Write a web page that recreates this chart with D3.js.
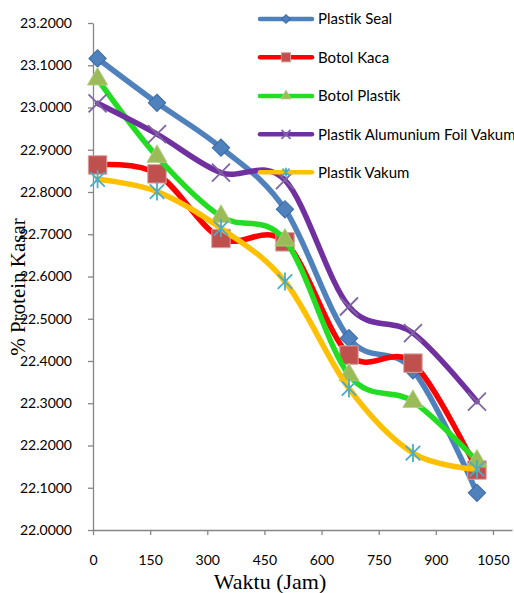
<!DOCTYPE html>
<html>
<head>
<meta charset="utf-8">
<script src="https://cdn.jsdelivr.net/npm/d3@7"></script>
<style>
  html, body { margin: 0; padding: 0; background: #fff; }
  svg { display: block; }
</style>
</head>
<body>
<svg id="chart" width="514" height="593"></svg>
<script>
// ---- Data ----
const hours = [12, 168, 336, 504, 672, 840, 1008];
const seriesNames = ["Plastik Seal", "Botol Kaca", "Botol Plastik", "Plastik Alumunium Foil Vakum", "Plastik Vakum"];
const plastikSeal = [23.116, 23.011, 22.905, 22.759, 22.454, 22.378, 22.088];
const botolKaca = [22.864, 22.843, 22.690, 22.682, 22.414, 22.395, 22.142];
const botolPlastik = [23.067, 22.884, 22.742, 22.686, 22.367, 22.304, 22.163];
const plastikAlFoilVakum = [23.010, 22.937, 22.846, 22.828, 22.529, 22.466, 22.304];
const plastikVakum = [22.830, 22.801, 22.714, 22.588, 22.335, 22.182, 22.144];
const yTickValues = [22.0, 22.1, 22.2, 22.3, 22.4, 22.5, 22.6, 22.7, 22.8, 22.9, 23.0, 23.1, 23.2];
const xTickValues = [0, 150, 300, 450, 600, 750, 900, 1050];
const xTitle = "Waktu (Jam)";
const yTitle = "% Protein Kasar";

const seriesValues = [plastikSeal, botolKaca, botolPlastik, plastikAlFoilVakum, plastikVakum];
const lineColors = ["#4F81BD", "#FF0000", "#22DD22", "#7030A0", "#FFC000"];
const markerColors = ["#4F81BD", "#C0504D", "#9BBB59", "#8064A2", "#4BACC6"];
const markerTypes = ["diamond", "square", "triangle", "x", "star"];

const svg = d3.select("#chart");
const x = d3.scaleLinear().domain([0, 1100]).range([93, 512]);
const y = d3.scaleLinear().domain([22.0, 23.2]).range([530, 23]);

const sansFont = "Lato, 'Noto Sans', sans-serif";
const serifFont = "'Liberation Serif', 'DejaVu Serif', serif";

// Axes
const yAxis = svg.append("g").attr("transform", `translate(${x(0)},0)`)
  .call(d3.axisLeft(y).tickValues(yTickValues).tickFormat(d => d.toFixed(4)).tickSize(5).tickSizeOuter(0).tickPadding(16));
const xAxis = svg.append("g").attr("transform", `translate(0,${y(22.0)})`)
  .call(d3.axisBottom(x).tickValues(xTickValues).tickFormat(d3.format("d")).tickSize(5).tickSizeOuter(0).tickPadding(20));
[yAxis, xAxis].forEach(g => {
  g.selectAll("path.domain").attr("stroke", "#868686").attr("stroke-width", 1.3);
  g.selectAll(".tick line").attr("stroke", "#868686").attr("stroke-width", 1.3);
  g.selectAll(".tick text").attr("fill", "#000").style("font-family", sansFont).style("font-size", "14px");
});

// Titles
svg.append("text").text(xTitle)
  .attr("x", 270).attr("y", 589)
  .attr("text-anchor", "middle")
  .style("font-family", serifFont).style("font-size", "22px").attr("fill", "#000");
svg.append("text").text(yTitle)
  .attr("transform", "translate(25,287) rotate(-90)")
  .attr("text-anchor", "middle")
  .style("font-family", serifFont).style("font-size", "21px").attr("fill", "#000");

// Marker drawing
function drawMarker(g, type, color, s) {
  if (type === "diamond") {
    g.append("path").attr("d", d3.symbol(d3.symbolSquare, 150 * s * s)())
      .attr("transform", "rotate(45)")
      .attr("fill", color).attr("stroke", "#3A6AA5").attr("stroke-width", 1);
  } else if (type === "square") {
    g.append("path").attr("d", d3.symbol(d3.symbolSquare, 340 * s * s)())
      .attr("fill", color).attr("stroke", "#D9A09E").attr("stroke-width", 1);
  } else if (type === "triangle") {
    g.append("path").attr("d", d3.symbol(d3.symbolTriangle, 180 * s * s)())
      .attr("fill", color).attr("stroke", "#B5CF88").attr("stroke-width", 0.8);
  } else if (type === "x") {
    const r = 9 * s;
    g.append("path").attr("d", `M${-r},${-r}L${r},${r}M${-r},${r}L${r},${-r}`)
      .attr("stroke", color).attr("stroke-width", 1.8).attr("fill", "none");
  } else if (type === "star") {
    const r = 9 * s;
    const a = r * 0.8;
    g.append("path").attr("d", `M${-a},${-a}L${a},${a}M${-a},${a}L${a},${-a}M0,${-r}L0,${r}`)
      .attr("stroke", color).attr("stroke-width", 1.8).attr("fill", "none");
  }
}

const line = d3.line().x((d, i) => x(hours[i])).y(d => y(d)).curve(d3.curveCardinal.tension(0));

// Series lines + markers
seriesValues.forEach((vals, si) => {
  svg.append("path").datum(vals)
    .attr("d", line)
    .attr("fill", "none")
    .attr("stroke", lineColors[si])
    .attr("stroke-width", 5.5)
    .attr("stroke-linejoin", "round")
    .attr("stroke-linecap", "round");
  vals.forEach((v, i) => {
    const g = svg.append("g").attr("transform", `translate(${x(hours[i])},${y(v)})`);
    drawMarker(g, markerTypes[si], markerColors[si], 1);
  });
});

// Legend
const legendRowsY = [19, 57.3, 96, 134.3, 172.3];
seriesNames.forEach((name, si) => {
  const g = svg.append("g").attr("transform", `translate(0,${legendRowsY[si]})`);
  g.append("line").attr("x1", 260).attr("x2", 312).attr("y1", 0).attr("y2", 0)
    .attr("stroke", lineColors[si]).attr("stroke-width", 4.5).attr("stroke-linecap", "round");
  const mg = g.append("g").attr("transform", "translate(286,0)");
  drawMarker(mg, markerTypes[si], markerColors[si], 0.5);
  g.append("text").text(name).attr("x", 318).attr("y", 0).attr("dy", "0.35em")
    .style("font-family", sansFont).style("font-size", "15px").attr("fill", "#000");
});
</script>
</body>
</html>
